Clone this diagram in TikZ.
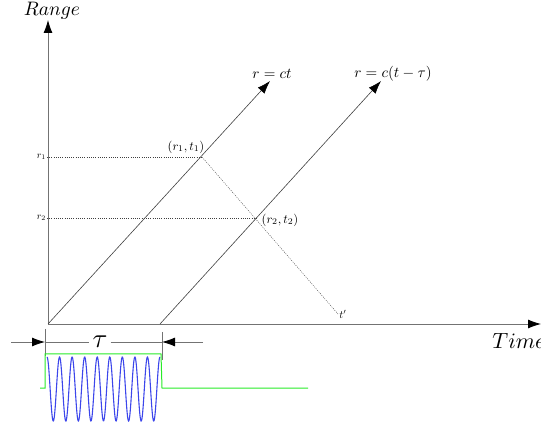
\documentclass[tikz,border=0pt]{standalone}
\usetikzlibrary{arrows.meta}
\definecolor{pulsegreen}{RGB}{40,235,40}
\definecolor{carrierblue}{RGB}{60,70,235}
\begin{document}
\begin{tikzpicture}[x=1pt,y=-1pt,>={Latex[length=13pt,width=9pt,color=black]}]
    \useasboundingbox (0,0) rectangle (541,430);

    % axes
    \coordinate (O) at (48,324);
    \coordinate (rtop) at (48,20);
    \coordinate (tend) at (541,324);
    \node[scale=1.95] (range) at (52,11) {$Range$};
    \node[anchor=west,inner sep=0pt,scale=2.2] (time) at (492,341) {$Time$};
    \draw[->,black!55,line width=0.8pt] (O) -- (rtop);
    \draw[->,black!55,line width=0.8pt] (O) -- (tend);

    % leading and trailing edge
    \coordinate (O2) at (160,324);
    \coordinate (e1) at (270,81);
    \coordinate (e2) at (381,81);
    \draw[->,black!75,line width=0.6pt] (O) -- (e1);
    \draw[->,black!75,line width=0.6pt] (O2) -- (e2);
    \node[scale=1.5] (lead) at (272,74) {$r=ct$};
    \node[scale=1.5] (trail) at (393,74) {$r=c(t-\tau)$};

    % crossing points
    \coordinate (p1) at (202,157);
    \coordinate (p2) at (257,218);
    \node[anchor=east,inner sep=1pt] (r1) at (47,157) {$r_1$};
    \node[anchor=east,inner sep=1pt] (r2) at (47,218) {$r_2$};
    \node[scale=1.25] (lp1) at (186,147) {$(r_1,t_1)$};
    \node[scale=1.25] (lp2) at (280,220) {$(r_2,t_2)$};
    \node[anchor=west,inner sep=1pt,scale=1.1] (tprime) at (338,314) {$t'$};
    \draw[black!75,dash pattern=on 1pt off 1.2pt] (r1.east) -- (p1);
    \draw[black!75,dash pattern=on 1pt off 1.2pt] (r2.east) -- (p2);
    \draw[black!75,dash pattern=on 1pt off 1.2pt] (p1) -- (tprime.west);

    % pulse width
    \coordinate (k1a) at (45,329);
    \coordinate (k1b) at (45,356);
    \coordinate (k2a) at (162,332);
    \coordinate (k2b) at (162,360);
    \coordinate (a1) at (11,342);
    \coordinate (a2) at (203,342);
    \node[scale=2.7,inner sep=1pt] (tau) at (100,342) {$\tau$};
    \draw[black!55,line width=0.8pt] (k1a) -- (k1b);
    \draw[black!55,line width=0.8pt] (k2a) -- (k2b);
    \draw[->,black!55,line width=0.8pt] (a1) -- (45,342);
    \draw[->,black!55,line width=0.8pt] (a2) -- (162,342);
    \draw[black!55,line width=0.8pt] (45,342) -- (tau.west);
    \draw[black!55,line width=0.8pt] (tau.east) -- (162,342);

    % pulse
    \draw[carrierblue,line width=1.1pt,samples=300,domain=47:160]
        plot (\x,{389-32*cos(28.672*(\x-47))});
    \draw[pulsegreen,line width=1pt] (40,388) -- (45,388) -- (45,354)
        -- (161,354) -- (162,388) -- (308,388);
\end{tikzpicture}
\end{document}
